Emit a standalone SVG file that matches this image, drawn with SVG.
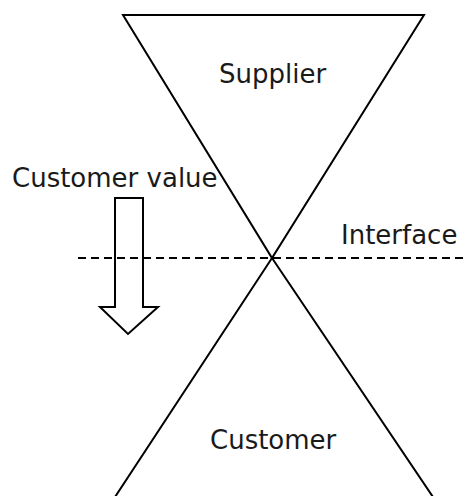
<svg xmlns="http://www.w3.org/2000/svg" width="469" height="496" viewBox="0 0 469 496">
<style>
.ln{fill:none;stroke:#000;stroke-width:2;stroke-linejoin:miter}
.t{font-family:"DejaVu Sans",Verdana,sans-serif;font-size:26px;fill:#1a1a1a}
</style>
<rect width="469" height="496" fill="#fff"/>
<g id="supplier">
<polygon class="ln" points="123,15 424,15 272,258"/>
<text class="t" x="219" y="83">Supplier</text>
</g>
<g id="customer">
<polygon class="ln" points="272,258 433,497 115,497"/>
<text class="t" x="210" y="449">Customer</text>
</g>
<g id="interface">
<line x1="78" y1="258" x2="466" y2="258" stroke="#000" stroke-width="2" stroke-dasharray="8,5"/>
<text class="t" x="341" y="244">Interface</text>
</g>
<g id="customer-value">
<text class="t" x="12" y="187">Customer value</text>
<polygon class="ln" points="115,198 143,198 143,307 158,307 128,334 100,307 115,307"/>
</g>
<g id="connectors"></g>
</svg>
